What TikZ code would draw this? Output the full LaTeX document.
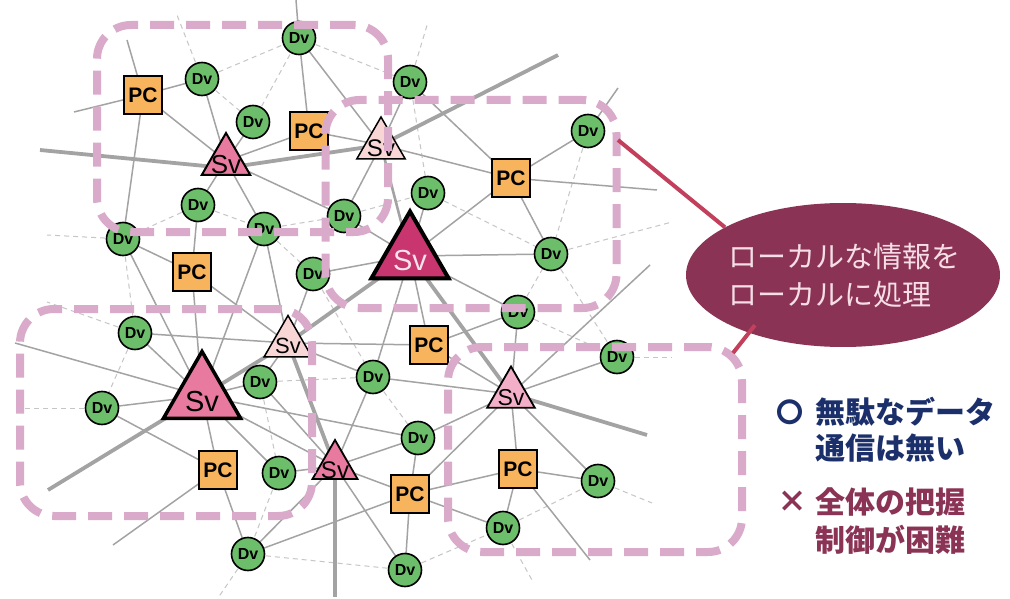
\documentclass[tikz,border=0pt]{standalone}
\usepackage{fontspec}
\setmainfont{Liberation Sans}
\newfontfamily\jpfont{Noto Sans CJK JP}
\usetikzlibrary{shapes.geometric,calc}
\pgfdeclarelayer{background}
\pgfdeclarelayer{canvas}
\pgfsetlayers{canvas,background,main}

\definecolor{dvgreen}{HTML}{6DBE6B}
\definecolor{pcorange}{HTML}{F8B45C}
\definecolor{wire}{HTML}{A3A3A3}
\definecolor{weak}{HTML}{C6C6C6}
\definecolor{zone}{HTML}{DAAACB}
\definecolor{svlight}{HTML}{F9D6D6}
\definecolor{svmid}{HTML}{F3AFC8}
\definecolor{svpink}{HTML}{E8799F}
\definecolor{svdeep}{HTML}{C8356F}
\definecolor{svtext}{HTML}{F6E3EC}
\definecolor{wine}{HTML}{8A3354}
\definecolor{crimson}{HTML}{C2405C}
\definecolor{navy}{HTML}{1B2F6B}
\definecolor{paletext}{HTML}{F6DDE6}

\tikzset{
  dv/.style={circle, draw=black, line width=1.6pt, fill=dvgreen, minimum size=33pt,
    inner sep=0pt, font=\fontsize{16}{16}\selectfont\bfseries},
  pc/.style={rectangle, draw=black, line width=1.5pt, fill=pcorange, minimum size=38pt,
    inner sep=0pt, font=\fontsize{21}{21}\selectfont\bfseries},
  sv/.style={regular polygon, regular polygon sides=3, inner sep=0pt, outer sep=0pt, draw=black},
  svlabel/.style={font=\fontsize{#1}{#1}\selectfont, inner sep=0pt},
  link/.style={draw=wire, line width=1.5pt},
  trunk/.style={draw=wire, line width=3.8pt},
  weaklink/.style={draw=weak, line width=1pt, dash pattern=on 5pt off 4pt},
  zonebox/.style={rectangle, draw=zone, line width=8pt, rounded corners=34pt,
    dash pattern=on 24pt off 12pt, inner sep=0pt},
  callline/.style={draw=crimson, line width=4pt},
}

\begin{document}
\begin{tikzpicture}[x=1pt,y=-1pt]
\begin{pgfonlayer}{canvas}
  \fill[white] (0,0) rectangle (1010,599);
\end{pgfonlayer}
\useasboundingbox (0,0) rectangle (1010,599);

% devices
\node[dv] (d1) at (299,38) {Dv};
\node[dv] (d2) at (202,79) {Dv};
\node[dv] (d3) at (253,122) {Dv};
\node[dv] (d4) at (410,82) {Dv};
\node[dv] (d5) at (588,131) {Dv};
\node[dv] (d6) at (428,193) {Dv};
\node[dv] (d7) at (344,216) {Dv};
\node[dv] (d8) at (551,254) {Dv};
\node[dv] (d9) at (198,205) {Dv};
\node[dv] (d10) at (264,229) {Dv};
\node[dv] (d11) at (123,239) {Dv};
\node[dv] (d12) at (313,274) {Dv};
\node[dv] (d13) at (135,333) {Dv};
\node[dv] (d14) at (260,382) {Dv};
\node[dv] (d15) at (102,408) {Dv};
\node[dv] (d16) at (518,312) {Dv};
\node[dv] (d17) at (373,377) {Dv};
\node[dv] (d18) at (617,357) {Dv};
\node[dv] (d19) at (418,438) {Dv};
\node[dv] (d20) at (279,473) {Dv};
\node[dv] (d21) at (248,554) {Dv};
\node[dv] (d22) at (405,570) {Dv};
\node[dv] (d23) at (503,528) {Dv};
\node[dv] (d24) at (598,481) {Dv};

% computers
\node[pc] (p1) at (143,95) {PC};
\node[pc] (p2) at (309,131) {PC};
\node[pc] (p3) at (511,178) {PC};
\node[pc] (p4) at (192,272) {PC};
\node[pc] (p5) at (429,345) {PC};
\node[pc] (p6) at (218,470) {PC};
\node[pc] (p7) at (410,494) {PC};
\node[pc] (p8) at (518,469) {PC};

% servers
\node[sv, fill=svpink, minimum size=56pt, line width=2pt,
  label={[svlabel=26, yshift=-4pt]center:Sv}] (s1) at (226,161) {};
\node[sv, fill=svlight, minimum size=56pt, line width=1.5pt,
  label={[svlabel=24, yshift=-3pt]center:Sv}] (s2) at (381,145) {};
\node[sv, fill=svdeep, minimum size=89pt, line width=4pt,
  label={[svlabel=29, text=svtext, yshift=-5pt]center:Sv}] (s3) at (410,256) {};
\node[sv, fill=svlight, minimum size=55pt, line width=1.5pt,
  label={[svlabel=22, yshift=-3pt]center:Sv}] (s4) at (288,343) {};
\node[sv, fill=svpink, minimum size=89pt, line width=3.5pt,
  label={[svlabel=29, yshift=-6pt]center:Sv}] (s5) at (202,396) {};
\node[sv, fill=svpink, minimum size=52pt, line width=1.8pt,
  label={[svlabel=24, yshift=-4pt]center:Sv}] (s6) at (335,466) {};
\node[sv, fill=svmid, minimum size=55pt, line width=1.8pt,
  label={[svlabel=23, yshift=-4pt]center:Sv}] (s7) at (511,394) {};
\coordinate (s1hub) at ($(s1.center)+(0,7)$);

% loose ends of links
\coordinate (a1) at (127,40);  \coordinate (a2) at (74,112);
\coordinate (a3) at (296,0);   \coordinate (a4) at (15,343);
\coordinate (a5) at (650,265); \coordinate (a6) at (113,545);
\coordinate (a7) at (590,560); \coordinate (a8) at (657,190);
\coordinate (a9) at (618,88);
\coordinate (t1) at (40,150);  \coordinate (t2) at (558,55);
\coordinate (t3) at (48,490);  \coordinate (t4) at (647,435);
\coordinate (t5) at (335,597);
\coordinate (b1) at (177,15);  \coordinate (b2) at (47,235);
\coordinate (b3) at (47,302);  \coordinate (b4) at (25,408);
\coordinate (b5) at (218,598); \coordinate (b6) at (532,580);
\coordinate (b7) at (652,503); \coordinate (b8) at (672,357);
\coordinate (b9) at (672,222); \coordinate (b10) at (428,22);

\begin{pgfonlayer}{background}
  % weak (dashed) links
  \foreach \u/\v in {d2/d1, d2/d3, d3/d1, d1/d4, d2/b1, d9/d11, d9/d10, d10/d7,
      d11/b2, d11/d13, d10/d12, d13/b3, d13/d15, d15/b4, d14/d20, d14/d17,
      d17/d19, d12/d17, d20/d21, d21/d22, d21/b5, d22/d23, d23/d24, d23/b6,
      d24/b7, d18/b8, d8/d18, d16/d18, d16/d8, d8/b9, d5/d8, d6/d8, d7/d6,
      d4/d6, d4/b10}
    \draw[weaklink] (\u.center) -- (\v.center);
  % ordinary links
  \foreach \u/\v in {a1/p1, a2/p1, p1/d2, p1/s1, p1/d11, d2/s1, d3/s1, d1/p2,
      d1/s2, d1/a3, p2/s1, p2/s2, s1/d9, s1/d10, s1/d7, d9/p4, d11/p4, d11/s5,
      d10/s5, d10/s4, p4/s5, p4/s4, d13/s4, d13/s5, a4/s5, d15/s5, d15/p6,
      d12/s4, d12/s3, s4/d14, s4/p5, s4/d17, s5/d14, s5/p6, s5/d20, s5/s6,
      s5/d19, d14/s6, d17/s7, d17/s6, d17/s3, p5/d16, p5/s3, p5/s7, s7/d16,
      s7/d18, s7/a5, s7/p8, s7/d24, s7/d19, s7/p7, d19/s6, d19/p7, p7/s6,
      p7/d22, p7/d23, d21/p7, p7/p8, s6/d20, s6/d21, s6/d22, p6/a6, p6/d21,
      d23/p8, p8/a7, p8/d24, s3/d16, s3/d7, s3/d6, s3/p3, s3/d8, d7/s2, d4/s2,
      d4/p3, p3/s2, p3/d5, p3/a8, p3/d8, d5/a9}
    \draw[link] (\u.center) -- (\v.center);
  % trunk links between servers
  \foreach \u/\v in {t1/s1hub, s1hub/s2, s2/t2, s3/s4, s4/s5, s5/t3, s3/s7,
      s7/t4, s4/s6, s6/t5}
    \draw[trunk] (\u.center) -- (\v.center);
  \draw[link, line width=2.6pt] (s2.center) -- (s3.center);
\end{pgfonlayer}

% local zones
\node[zonebox, minimum width=291pt, minimum height=207pt] (zoneA) at (242.5,128.5) {};
\node[zonebox, minimum width=291pt, minimum height=208pt] (zoneB) at (471,204) {};
\node[zonebox, minimum width=292pt, minimum height=207pt] (zoneC) at (166,412.5) {};
\node[zonebox, minimum width=294pt, minimum height=205pt] (zoneD) at (595,449.5) {};

% callout
\node[ellipse, fill=wine, minimum width=314pt, minimum height=144pt, inner sep=0pt]
  (callout) at (843,275) {};
\node[anchor=west, align=left, text=paletext, inner sep=0pt,
  font=\jpfont\fontsize{29}{38}\selectfont] (calltext) at (728,276)
  {ローカルな情報を\\ローカルに処理};
\coordinate (tapA) at (618,140);
\coordinate (tapB) at (733,353);
\draw[callline] (tapA) -- (callout.158);
\draw[callline] (tapB) -- ([xshift=5pt,yshift=8pt]callout.212);

% pros and cons
\node[text=navy, inner sep=0pt, font=\jpfont\bfseries\fontsize{27}{27}\selectfont]
  (okmark) at (790,412) {〇};
\node[anchor=west, align=left, text=navy, inner sep=0pt,
  font=\jpfont\bfseries\fontsize{30}{36}\selectfont] (merit) at (815,430)
  {無駄なデータ\\通信は無い};
\node[text=wine, inner sep=0pt, font=\jpfont\bfseries\fontsize{30}{30}\selectfont]
  (ngmark) at (792,502) {×};
\node[anchor=west, align=left, text=wine, inner sep=0pt,
  font=\jpfont\bfseries\fontsize{30}{38}\selectfont] (demerit) at (815,521)
  {全体の把握\\制御が困難};
\end{tikzpicture}
\end{document}
